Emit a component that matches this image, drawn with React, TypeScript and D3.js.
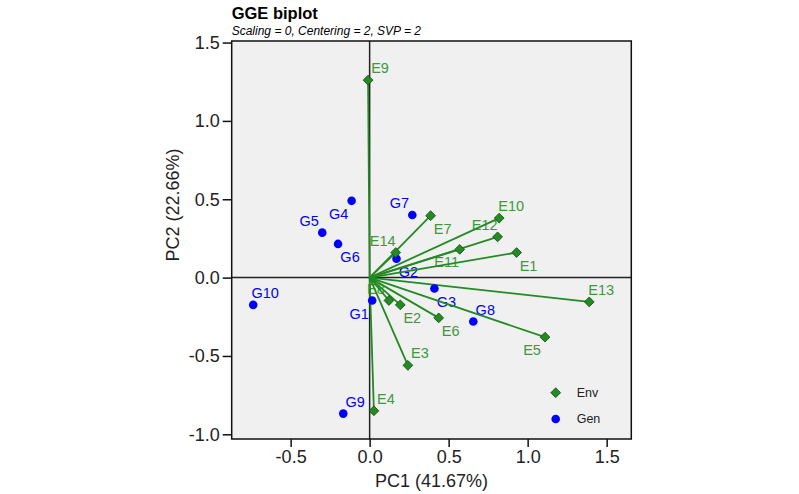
import { axisBottom, axisLeft, scaleLinear, select, symbol, symbolSquare } from "d3";
import { useEffect, useRef } from "react";

const W = 799;
const H = 494;

// environments (vectors from origin)
const envNames = ["E1", "E2", "E3", "E4", "E5", "E6", "E7", "E8", "E9", "E10", "E11", "E12", "E13", "E14"];
const envPC1 = [0.93, 0.194, 0.242, 0.027, 1.11, 0.437, 0.386, 0.122, -0.01, 0.82, 0.57, 0.81, 1.39, 0.165];
const envPC2 = [0.16, -0.174, -0.56, -0.85, -0.38, -0.257, 0.395, -0.146, 1.26, 0.38, 0.18, 0.26, -0.155, 0.16];
const envLabelDir = ["se", "se", "ne", "ne", "sw", "se", "se", "nw", "ne", "ne", "sw", "nw", "ne", "nw"];

// genotypes
const genNames = ["G1", "G2", "G3", "G4", "G5", "G6", "G7", "G8", "G9", "G10"];
const genPC1 = [0.016, 0.17, 0.41, -0.114, -0.3, -0.2, 0.27, 0.656, -0.167, -0.737];
const genPC2 = [-0.146, 0.12, -0.07, 0.49, 0.287, 0.215, 0.4, -0.28, -0.868, -0.174];
const genLabelDir = ["sw", "se", "se", "sw", "nw", "se", "nw", "ne", "ne", "ne"];

const tickValues = [-1, -0.5, 0, 0.5, 1, 1.5];
const xTickValues = [-0.5, 0, 0.5, 1, 1.5];

const legendItems = ["Env", "Gen"];

const FONT = "'Liberation Sans', Arial, sans-serif";
const GREEN = "#228b22";
const LABEL_GREEN = "#3c9a3c";
const BLUE = "#0000ff";

const nudge: Record<string, [number, number]> = {
  ne: [12, -12],
  nw: [-13, -12],
  se: [12, 13],
  sw: [-13, 13],
};

const GGEBiplot = () => {
  const ref = useRef<SVGSVGElement>(null);

  useEffect(() => {
    if (!ref.current) return;
    const svg = select(ref.current);
    svg.selectAll("*").remove();

    const margin = { left: 231.7, right: 631.3, top: 41, bottom: 439 };

    const x = scaleLinear().domain([-0.873, 1.656]).range([margin.left, margin.right]);
    const y = scaleLinear().domain([1.51, -1.03]).range([margin.top, margin.bottom]);

    // panel background
    svg
      .append("rect")
      .attr("x", margin.left)
      .attr("y", margin.top)
      .attr("width", margin.right - margin.left)
      .attr("height", margin.bottom - margin.top)
      .attr("fill", "#f0f0f0");

    // zero lines
    svg
      .append("line")
      .attr("x1", margin.left)
      .attr("x2", margin.right)
      .attr("y1", y(0))
      .attr("y2", y(0))
      .attr("stroke", "#222")
      .attr("stroke-width", 1.5);
    svg
      .append("line")
      .attr("x1", x(0))
      .attr("x2", x(0))
      .attr("y1", margin.top)
      .attr("y2", margin.bottom)
      .attr("stroke", "#222")
      .attr("stroke-width", 1.5);

    const envData = envNames.map((name, i) => ({
      name,
      pc1: envPC1[i],
      pc2: envPC2[i],
      dir: envLabelDir[i],
    }));
    const genData = genNames.map((name, i) => ({
      name,
      pc1: genPC1[i],
      pc2: genPC2[i],
      dir: genLabelDir[i],
    }));

    // labels
    const labelG = svg.append("g").attr("font-family", FONT).attr("font-size", 14.5).attr("text-anchor", "middle");
    labelG
      .selectAll(".envlab")
      .data(envData)
      .join("text")
      .attr("x", (d) => x(d.pc1) + nudge[d.dir][0])
      .attr("y", (d) => y(d.pc2) + nudge[d.dir][1])
      .attr("dy", "0.35em")
      .attr("fill", LABEL_GREEN)
      .text((d) => d.name);
    labelG
      .selectAll(".genlab")
      .data(genData)
      .join("text")
      .attr("x", (d) => x(d.pc1) + nudge[d.dir][0])
      .attr("y", (d) => y(d.pc2) + nudge[d.dir][1])
      .attr("dy", "0.35em")
      .attr("fill", BLUE)
      .text((d) => d.name);

    // env vectors
    svg
      .selectAll(".vec")
      .data(envData)
      .join("line")
      .attr("x1", x(0))
      .attr("y1", y(0))
      .attr("x2", (d) => x(d.pc1))
      .attr("y2", (d) => y(d.pc2))
      .attr("stroke", GREEN)
      .attr("stroke-width", 1.8);

    const diamond = symbol().type(symbolSquare).size(48)();

    svg
      .selectAll(".gen")
      .data(genData)
      .join("circle")
      .attr("cx", (d) => x(d.pc1))
      .attr("cy", (d) => y(d.pc2))
      .attr("r", 4.3)
      .attr("fill", BLUE);

    svg
      .selectAll(".env")
      .data(envData)
      .join("path")
      .attr("d", diamond)
      .attr("transform", (d) => `translate(${x(d.pc1)},${y(d.pc2)}) rotate(45)`)
      .attr("fill", GREEN)
      .attr("stroke", "#1a4a1a")
      .attr("stroke-width", 0.8);

    // panel border
    svg
      .append("rect")
      .attr("x", margin.left)
      .attr("y", margin.top)
      .attr("width", margin.right - margin.left)
      .attr("height", margin.bottom - margin.top)
      .attr("fill", "none")
      .attr("stroke", "#111")
      .attr("stroke-width", 1.5);

    // axes
    const fmt = (d: number) => d.toFixed(1);
    const yAxis = axisLeft(y).tickValues(tickValues).tickSize(9).tickPadding(3).tickFormat((d) => fmt(+d));
    const xAxis = axisBottom(x).tickValues(xTickValues).tickSize(8).tickPadding(3).tickFormat((d) => fmt(+d));

    const gy = svg.append("g").attr("transform", `translate(${margin.left},0)`).call(yAxis);
    const gx = svg.append("g").attr("transform", `translate(0,${margin.bottom})`).call(xAxis);
    [gx, gy].forEach((g) => {
      g.select(".domain").remove();
      g.selectAll("line").attr("stroke", "#111").attr("stroke-width", 1.5);
      g.selectAll("text").attr("font-family", FONT).attr("font-size", 18).attr("fill", "#222");
    });

    // axis titles
    svg
      .append("text")
      .attr("x", (margin.left + margin.right) / 2)
      .attr("y", 481)
      .attr("dy", "0.35em")
      .attr("text-anchor", "middle")
      .attr("font-family", FONT)
      .attr("font-size", 18)
      .attr("fill", "#222")
      .text("PC1 (41.67%)");
    svg
      .append("text")
      .attr("transform", `translate(173,205) rotate(-90)`)
      .attr("dy", "0.35em")
      .attr("text-anchor", "middle")
      .attr("font-family", FONT)
      .attr("font-size", 18)
      .attr("fill", "#222")
      .text("PC2 (22.66%)");

    // title
    svg
      .append("text")
      .attr("x", margin.left)
      .attr("y", 18.5)
      .attr("font-family", FONT)
      .attr("font-size", 16.5)
      .attr("font-weight", "bold")
      .attr("fill", "#000")
      .text("GGE biplot");
    svg
      .append("text")
      .attr("x", margin.left)
      .attr("y", 34.5)
      .attr("font-family", FONT)
      .attr("font-size", 12)
      .attr("font-style", "italic")
      .attr("fill", "#000")
      .text("Scaling = 0, Centering = 2, SVP = 2");

    // legend
    const leg = svg.append("g").attr("font-family", FONT).attr("font-size", 12.5);
    legendItems.forEach((name, i) => {
      const cy = 392.7 + i * 26.3;
      if (name === "Env") {
        leg
          .append("path")
          .attr("d", diamond)
          .attr("transform", `translate(555.7,${cy}) rotate(45)`)
          .attr("fill", GREEN)
          .attr("stroke", "#1a4a1a")
          .attr("stroke-width", 0.8);
      } else {
        leg.append("circle").attr("cx", 555.7).attr("cy", cy).attr("r", 4.3).attr("fill", BLUE);
      }
      leg
        .append("text")
        .attr("x", 576.7)
        .attr("y", cy)
        .attr("dy", "0.35em")
        .attr("fill", "#222")
        .text(name);
    });
  }, []);

  return <svg ref={ref} width={W} height={H} style={{ display: "block" }} />;
};

export default function App() {
  return (
    <div style={{ position: "absolute", left: 0, top: 0 }}>
      <GGEBiplot />
    </div>
  );
}
